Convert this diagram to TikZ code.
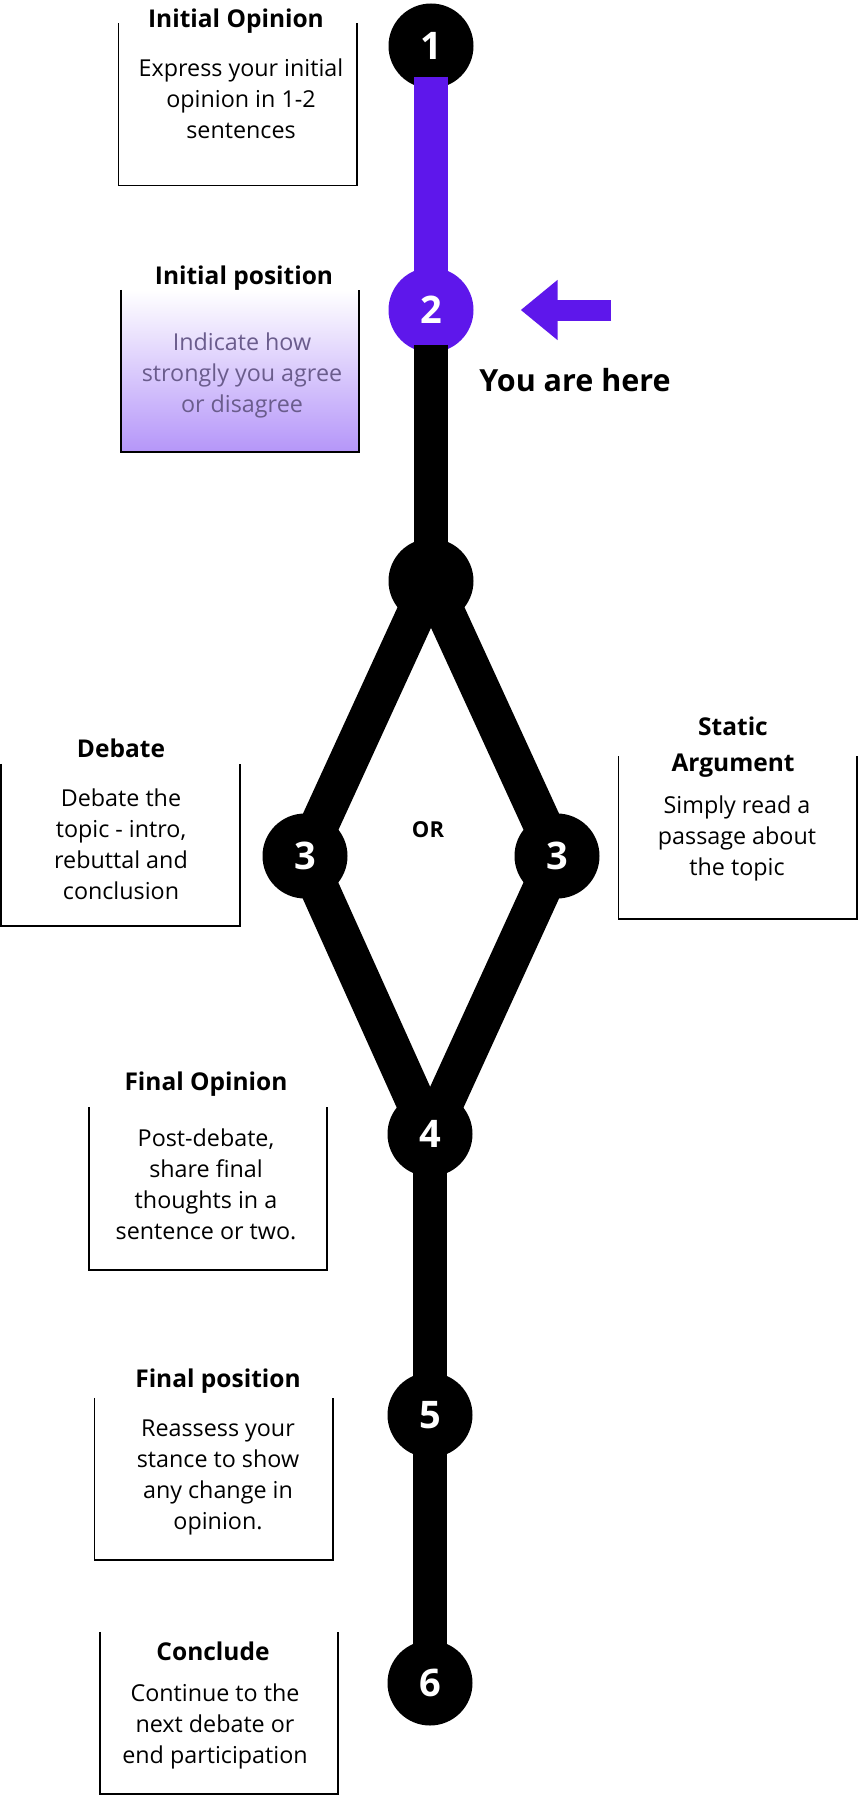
\documentclass[tikz,border=0pt]{standalone}
\usepackage{fontspec}
\setmainfont{Open Sans}
\usetikzlibrary{positioning,arrows.meta,calc}
\definecolor{trackpurple}{HTML}{5E17EB}
\definecolor{fadepurple}{HTML}{B596F9}
\definecolor{mutedtext}{HTML}{6A5C8C}

\tikzset{
  stopdot/.style={circle,fill=black,text=white,minimum size=85pt,inner sep=0pt,
    font=\fontsize{38}{38}\selectfont\bfseries},
  card/.style={minimum width=238pt,minimum height=162pt,inner sep=0pt},
  cardline/.style={line width=1.6pt},
  heading/.style={font=\fontsize{24.5}{36}\selectfont\bfseries,align=center,inner sep=0pt},
  blurb/.style={font=\fontsize{23.3}{31}\selectfont,align=center,inner sep=0pt},
  track/.style={line width=34pt},
  slant/.style={line width=39pt}
}

\begin{document}
\begin{tikzpicture}[x=1pt,y=-1pt]
  \useasboundingbox (0,0) rectangle (858,1795);

  % cards, open at the top
  \node[card] (c1) at (237.5,104.5) {};
  \node[card,top color=white,bottom color=fadepurple] (c2) at (240,371) {};
  \node[card] (c3) at (120.5,845) {};
  \node[card] (c4) at (737.5,837.5) {};
  \node[card] (c5) at (208,1188.5) {};
  \node[card] (c6) at (213.5,1479) {};
  \node[card] (c7) at (219,1713) {};
  \foreach \c in {c1,c2,c3,c4,c5,c6,c7}
    \draw[cardline] (\c.north west) -- (\c.south west) -- (\c.south east) -- (\c.north east);

  \node[heading] (t1) at (236,21) {Initial Opinion};
  \node[heading] (t2) at (244,278) {Initial position};
  \node[heading] (t3) at (121,748) {Debate};
  \node[heading] (t4) at (733,747) {Static\\Argument};
  \node[heading] (t5) at (206,1084) {Final Opinion};
  \node[heading] (t6) at (218,1381) {Final position};
  \node[heading] (t7) at (213,1651) {Conclude};

  \node[blurb] (b1) at (241,99) {Express your initial\\opinion in 1-2\\sentences};
  \node[blurb,text=mutedtext] (b2) at (242,375) {Indicate how\\strongly you agree\\or disagree};
  \node[blurb] (b3) at (121,844) {Debate the\\topic - intro,\\rebuttal and\\conclusion};
  \node[blurb] (b4) at (737,838) {Simply read a\\passage about\\the topic};
  \node[blurb] (b5) at (206,1184) {Post-debate,\\share final\\thoughts in a\\sentence or two.};
  \node[blurb] (b6) at (218,1477) {Reassess your\\stance to show\\any change in\\opinion.};
  \node[blurb] (b7) at (215,1726) {Continue to the\\next debate or\\end participation};

  % stops
  \node[stopdot] (s1) at (431,46) {1};
  \node[stopdot,fill=trackpurple] (s2) at (431,310) {2};
  \node[stopdot] (j) at (431,581) {};
  \node[stopdot] (s3a) at (305,856) {3};
  \node[stopdot] (s3b) at (557,856) {3};
  \node[stopdot] (s4) at (430,1134) {4};
  \node[stopdot] (s5) at (430,1415) {5};
  \node[stopdot] (s6) at (430,1683) {6};

  % track
  \draw[track,trackpurple,shorten <=-12pt,shorten >=-10pt] (s1) -- (s2);
  \draw[track,shorten <=-8pt,shorten >=-30pt] (s2) -- (j);
  \draw[slant,shorten <=-42pt,shorten >=-12pt] (j) -- (s3a);
  \draw[slant,shorten <=-42pt,shorten >=-12pt] (j) -- (s3b);
  \draw[slant,shorten <=-12pt,shorten >=-12pt] (s3a) -- (s4);
  \draw[slant,shorten <=-12pt,shorten >=-12pt] (s3b) -- (s4);
  \draw[track,shorten <=-12pt,shorten >=-12pt] (s4) -- (s5);
  \draw[track,shorten <=-12pt,shorten >=-12pt] (s5) -- (s6);

  \node[font=\fontsize{22}{22}\selectfont\bfseries] (or) at (428,830) {OR};

  % marker
  \coordinate (here) at (611,310);
  \draw[trackpurple,line width=21pt,-{Triangle[length=37pt,width=58pt]},shorten >=47pt] (here) -- (s2);
  \node[font=\fontsize{30.5}{30.5}\selectfont\bfseries] (you) at (575,380) {You are here};
\end{tikzpicture}
\end{document}
